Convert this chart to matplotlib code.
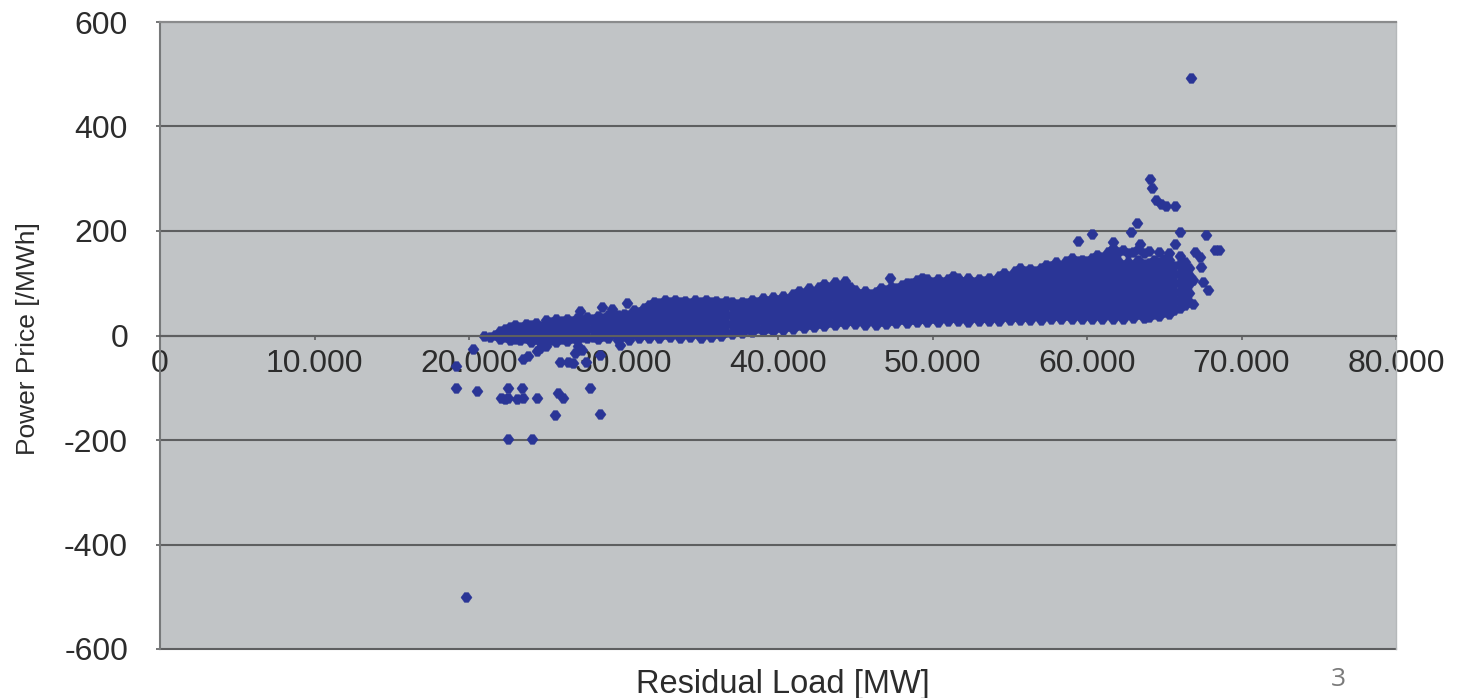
import matplotlib
matplotlib.use("Agg")
import matplotlib.pyplot as plt

# --- values ---
x_ticks = [0, 10000, 20000, 30000, 40000, 50000, 60000, 70000, 80000]
x_labels = ["0", "10.000", "20.000", "30.000", "40.000", "50.000", "60.000", "70.000", "80.000"]
y_ticks = [-600, -400, -200, 0, 200, 400, 600]
y_labels = ["-600", "-400", "-200", "0", "200", "400", "600"]

# isolated points
outlier_load = [66750, 64050, 64220, 64480, 64800, 65100, 65680, 63250, 62870, 66040, 67720, 60330,
                59430, 61690, 63400, 65670, 68260, 68570, 67500, 67830, 66960, 67290, 67400, 66860,
                66860, 47250, 20230, 19190, 19190, 20530, 22540, 23400, 22100, 22540, 23465, 24400,
                25770, 26100, 25560, 27820, 28470, 22540, 24050, 28470, 27600, 25880, 26420, 26850,
                27070, 23830, 23500, 24370, 24580, 25000, 29760, 28580, 29240, 30200, 27180, 19800,
                22300, 23100, 26700, 27300]
outlier_price = [493, 299, 282, 259, 252, 248, 248, 215, 199, 199, 193, 194,
                 181, 179, 175, 175, 163, 163, 103, 88, 160, 150, 131, 106,
                 61, 110, -25, -59, -100, -107, -100, -100, -120, -120, -120, -120,
                 -110, -120, -152, -100, -150, -198, -198, -37, -50, -50, -50, -34,
                 -21, -40, -45, -30, -24, -20, -18, 55, 50, 63, 46, -500,
                 -122, -121, -52, -28]

# dense band, one list of prices per load value
cloud_load = [21000, 21330, 21660, 22000, 22330, 22660, 23000, 23330, 23660, 24000, 24330, 24660,
              25000, 25330, 25660, 26000, 26330, 26660, 27000, 27330, 27660, 28000, 28330, 28660,
              29000, 29330, 29660, 30000, 30330, 30660, 31000, 31330, 31660, 32000, 32330, 32660,
              33000, 33330, 33660, 34000, 34330, 34660, 35000, 35330, 35660, 36000, 36330, 36660,
              37000, 37330, 37660, 38000, 38330, 38660, 39000, 39330, 39660, 40000, 40330, 40660,
              41000, 41330, 41660, 42000, 42330, 42660, 43000, 43330, 43660, 44000, 44330, 44660,
              45000, 45330, 45660, 46000, 46330, 46660, 47000, 47330, 47660, 48000, 48330, 48660,
              49000, 49330, 49660, 50000, 50330, 50660, 51000, 51330, 51660, 52000, 52330, 52660,
              53000, 53330, 53660, 54000, 54330, 54660, 55000, 55330, 55660, 56000, 56330, 56660,
              57000, 57330, 57660, 58000, 58330, 58660, 59000, 59330, 59660, 60000, 60330, 60660,
              61000, 61330, 61660, 62000, 62330, 62660, 63000, 63330, 63660, 64000, 64330, 64660,
              65000, 65330, 65660, 66000, 66330, 66600]
cloud_prices = [
    [0], [-2], [1],
    [-6, 8], [-3, 12], [-8, 6, 17],
    [-7, 10, 20], [-9, 4, 16], [-5, 12, 22],
    [-12, 4, 20], [-7, 10, 24], [-14, 3, 18],
    [-15, 2, 19, 30], [-8, 10, 26], [-12, 5, 20, 32],
    [-6, 11, 27], [-10, 6, 22, 31], [-4, 13, 28],
    [-8, 8, 24, 34], [-3, 14, 30], [-5, 10, 26, 36],
    [-2, 15, 31], [-6, 10, 26, 38], [0, 17, 33],
    [-5, 12, 28, 39], [2, 18, 34], [-8, 8, 24, 40],
    [0, 17, 33, 42], [-9, 8, 25, 40], [2, 19, 36, 48],
    [-5, 12, 29, 45], [3, 20, 37, 52], [-4, 13, 30, 47, 58],
    [4, 21, 38, 55, 64], [-5, 12, 29, 46, 62], [3, 20, 37, 54, 68],
    [-3, 14, 31, 48, 65], [5, 22, 39, 56, 67], [-4, 13, 30, 47, 64],
    [4, 21, 38, 55, 66], [-3, 14, 31, 48, 63], [5, 22, 39, 56, 68],
    [-4, 13, 30, 47, 64], [4, 21, 38, 55, 67], [-3, 14, 31, 48, 64],
    [5, 22, 39, 56, 66], [0, 17, 34, 51, 63], [7, 24, 41, 58, 66],
    [3, 20, 37, 54, 64], [10, 27, 44, 60], [5, 22, 39, 56, 65],
    [12, 29, 46, 62], [6, 23, 40, 57, 67], [14, 31, 48, 65],
    [8, 25, 42, 59, 71], [15, 32, 49, 66], [9, 26, 43, 60, 73],
    [16, 33, 50, 67], [10, 27, 44, 61, 76], [18, 35, 52, 69],
    [12, 29, 46, 63, 80], [20, 37, 54, 71, 85], [14, 31, 48, 65, 82],
    [22, 39, 56, 73, 90], [16, 33, 50, 67, 84], [24, 41, 58, 75, 93],
    [18, 35, 52, 69, 86, 99], [26, 43, 60, 77, 92], [20, 37, 54, 71, 88, 102],
    [27, 44, 61, 78, 95], [22, 39, 56, 73, 90, 104], [29, 46, 63, 80, 92],
    [22, 39, 56, 73, 88], [30, 47, 64, 80], [21, 38, 55, 72, 86],
    [29, 46, 63, 80], [20, 37, 54, 71, 84], [28, 45, 62, 79, 90],
    [22, 39, 56, 73, 88], [30, 47, 64, 81, 92], [23, 40, 57, 74, 91],
    [31, 48, 65, 82, 97], [24, 41, 58, 75, 92, 100], [32, 49, 66, 83, 100],
    [25, 42, 59, 76, 93, 106], [33, 50, 67, 84, 101, 110], [26, 43, 60, 77, 94, 108],
    [34, 51, 68, 85, 102], [26, 43, 60, 77, 94, 108], [35, 52, 69, 86, 103],
    [27, 44, 61, 78, 95, 108], [35, 52, 69, 86, 103, 113], [27, 44, 61, 78, 95, 110],
    [35, 52, 69, 86, 103], [26, 43, 60, 77, 94, 111], [35, 52, 69, 86, 103],
    [27, 44, 61, 78, 95, 108], [36, 53, 70, 87, 104], [28, 45, 62, 79, 96, 110],
    [37, 54, 71, 88, 105], [28, 45, 62, 79, 96, 113], [37, 54, 71, 88, 105, 120],
    [29, 46, 63, 80, 97, 114], [38, 55, 72, 89, 106, 123], [29, 46, 63, 80, 97, 114, 130],
    [38, 55, 72, 89, 106, 123], [30, 47, 64, 81, 98, 115, 128], [39, 56, 73, 90, 107, 124],
    [30, 47, 64, 81, 98, 115, 130], [39, 56, 73, 90, 107, 124, 135], [31, 48, 65, 82, 99, 116, 133],
    [40, 57, 74, 91, 108, 125, 140], [31, 48, 65, 82, 99, 116, 133], [40, 57, 74, 91, 108, 125, 142],
    [32, 49, 66, 83, 100, 117, 134, 148], [41, 58, 75, 92, 109, 126, 142], [32, 49, 66, 83, 100, 117, 134, 145],
    [41, 58, 75, 92, 109, 126, 143], [32, 49, 66, 83, 100, 117, 134, 148], [41, 58, 75, 92, 109, 126, 143, 155],
    [32, 49, 66, 83, 100, 117, 134, 151], [41, 58, 75, 92, 109, 126, 143, 160], [32, 49, 66, 83, 100, 117, 134, 151, 168],
    [41, 58, 75, 92, 109, 126, 143, 160], [32, 49, 66, 83, 100, 117, 134, 163], [41, 58, 75, 92, 109, 126, 140, 158],
    [33, 50, 67, 84, 101, 118, 135, 160], [42, 59, 76, 93, 110, 127, 144, 165], [34, 51, 68, 85, 102, 119, 136, 158],
    [36, 53, 70, 87, 104, 121, 138, 162], [42, 59, 76, 93, 110, 127, 144], [38, 55, 72, 89, 106, 123, 140, 160],
    [45, 62, 79, 96, 113, 130, 147], [42, 59, 76, 93, 110, 127, 144, 158], [48, 65, 82, 99, 116, 133],
    [52, 69, 86, 103, 120, 137, 152], [58, 75, 92, 109, 126, 140], [65, 82, 99, 116, 130],
]

cloud_x = []
cloud_y = []
for load, prices in zip(cloud_load, cloud_prices):
    for price in prices:
        cloud_x.append(load)
        cloud_y.append(price)

plt.rcParams["font.family"] = ["Liberation Sans", "DejaVu Sans"]

fig = plt.figure(figsize=(14.66, 6.98), dpi=100)
# axes box in pixels: x 160-1396, y 22-649
ax = fig.add_axes([160 / 1466, 1 - 649 / 698, 1236 / 1466, 627 / 698])
ax.set_facecolor("#c1c4c6")

line_col = "#5e5f60"
text_col = "#2c2c2c"
blue = "#2a3596"

# the markers in the picture are blurred diamonds, wider than tall
blob = [(-1, 0), (-0.35, 0.88), (0.35, 0.88), (1, 0), (0.35, -0.88), (-0.35, -0.88), (-1, 0)]

ax.set_axisbelow(True)
ax.yaxis.grid(True, color=line_col, lw=1.5)
for line in ax.get_ygridlines():
    line.set_clip_on(False)

ax.plot(cloud_x, cloud_y, ls="none", marker=blob, ms=8.0, mfc=blue, mec=blue, mew=0.3)
ax.plot(outlier_load, outlier_price, ls="none", marker=blob, ms=8.0, mfc=blue, mec=blue, mew=0.3)

ax.set_xlim(0, 80000)
ax.set_ylim(-600, 600)
ax.set_xticks(x_ticks)
ax.set_xticklabels(x_labels)
ax.set_yticks(y_ticks)
ax.set_yticklabels(y_labels)

ax.spines["bottom"].set_position(("data", 0))
ax.spines["bottom"].set_color(line_col)
ax.spines["bottom"].set_linewidth(1.5)
ax.spines["left"].set_color("#77797a")
ax.spines["left"].set_linewidth(1.5)
ax.spines["top"].set_color("#8a8b8c")
ax.spines["top"].set_linewidth(1.5)
ax.spines["right"].set_color("#b5b8ba")
ax.spines["right"].set_linewidth(1.0)

ax.tick_params(axis="x", direction="out", length=3, width=1.2, color=line_col,
               labelcolor=text_col, labelsize=23, pad=7)
ax.tick_params(axis="y", direction="out", length=3, width=1.2, color=line_col,
               labelcolor=text_col, labelsize=23, pad=20)

fig.text(783 / 1466, 1 - 684 / 698, "Residual Load [MW]", ha="center", va="center",
         fontsize=23.5, color=text_col)
fig.text(28 / 1466, 1 - 339 / 698, "Power Price [/MWh]", ha="center", va="center",
         rotation=90, fontsize=19, color=text_col)
fig.text(1338 / 1466, 1 - 679 / 698, "3", ha="center", va="center", fontsize=19,
         color="#7a7a7a", family=["Open Sans", "DejaVu Sans"])

fig.savefig("out.png", dpi=100)
